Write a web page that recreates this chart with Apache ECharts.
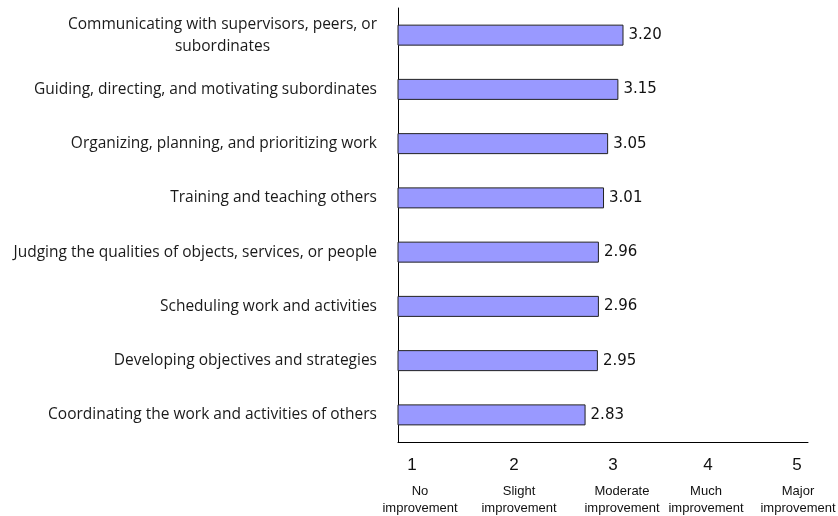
<!DOCTYPE html>
<html><head><meta charset="utf-8">
<script src="https://cdn.jsdelivr.net/npm/echarts@6/dist/echarts.min.js"></script>
<style>html,body{margin:0;padding:0;background:#fff}#c{width:838px;height:516px}</style>
</head><body><div id="c"></div>
<script>
const categories = [
  "Communicating with supervisors, peers, or\nsubordinates",
  "Guiding, directing, and motivating subordinates",
  "Organizing, planning, and prioritizing work",
  "Training and teaching others",
  "Judging the qualities of objects, services, or people",
  "Scheduling work and activities",
  "Developing objectives and strategies",
  "Coordinating the work and activities of others"
];
const values = [3.20, 3.15, 3.05, 3.01, 2.96, 2.96, 2.95, 2.83];
const tickValues = [1, 2, 3, 4, 5];
const tickDescriptions = ["No\nimprovement", "Slight\nimprovement", "Moderate\nimprovement", "Much\nimprovement", "Major\nimprovement"];

const CAT_FONT = 'Open Sans';
const CAT_SIZE = 15.5;
const TICK_FONT = 'Liberation Sans';
const numShift = [14, 13.5, 10, 2.5, -11];
const descShift = [22, 18.5, 19, 0.5, -10];
function pad(s){ return s >= 0 ? [0,0,0,2*s] : [0,-2*s,0,0]; }
const numRich = {}, descRich = {};
tickValues.forEach((v,i)=>{
  numRich['n'+i] = {fontSize:17, fontFamily:TICK_FONT, color:'#111', padding:pad(numShift[i]), align:'center'};
  descRich['d'+i] = {fontSize:13, fontFamily:TICK_FONT, color:'#111', lineHeight:17, padding:pad(descShift[i]), align:'center'};
});

function measure(t){
  const c = document.createElement('canvas').getContext('2d');
  c.font = CAT_SIZE + 'px "' + CAT_FONT + '"';
  return Math.ceil(c.measureText(t).width);
}
const multiW = Math.max.apply(null, categories.filter(c=>c.indexOf('\n')>=0).map(c=>c.split('\n')).flat().map(measure));

const chart = echarts.init(document.getElementById('c'));
chart.setOption({
  animation:false,
  grid:{left:398, right:30, top:8, bottom:74, containLabel:false, outerBoundsMode:'none'},
  xAxis:[{
    type:'value', min:1, max:5, interval:1,
    axisLine:{show:true, lineStyle:{color:'#000', width:1}},
    axisTick:{show:false}, splitLine:{show:false},
    axisLabel:{margin:15, showMinLabel:true, showMaxLabel:true, hideOverlap:false,
      formatter:(v)=>{const i=tickValues.indexOf(v); return i<0?'':'{n'+i+'|'+v+'}';}, rich:numRich}
  },{
    type:'category', data:tickDescriptions, boundaryGap:false, position:'bottom',
    axisLine:{show:false}, axisTick:{show:false}, splitLine:{show:false},
    axisLabel:{margin:41, interval:0, hideOverlap:false,
      formatter:(v, idx)=>v.split('\n').map(t=>'{d'+idx+'|'+t+'}').join('\n'), rich:descRich}
  }],
  yAxis:{
    type:'category', data:categories, inverse:true,
    axisLine:{show:true, onZero:false, lineStyle:{color:'#000', width:1}},
    axisTick:{show:false},
    axisLabel:{margin:21, fontSize:CAT_SIZE, fontFamily:CAT_FONT, color:'#1a1a1a', interval:0,
      formatter:(v)=>v.indexOf('\n')>=0 ? v.split('\n').map(t=>'{c|'+t+'}').join('\n') : v,
      rich:{c:{fontSize:CAT_SIZE, fontFamily:CAT_FONT, color:'#1a1a1a', lineHeight:22, width:multiW, align:'center'}}}
  },
  series:[{
    type:'bar', data:values, barWidth:21, xAxisIndex:0,
    itemStyle:{color:'#9999ff', borderColor:'#222', borderWidth:1},
    label:{show:true, position:'right', distance:5, fontSize:15, fontFamily:'DejaVu Sans', color:'#111', formatter:(p)=>p.value.toFixed(2)}
  }]
});
</script></body></html>
